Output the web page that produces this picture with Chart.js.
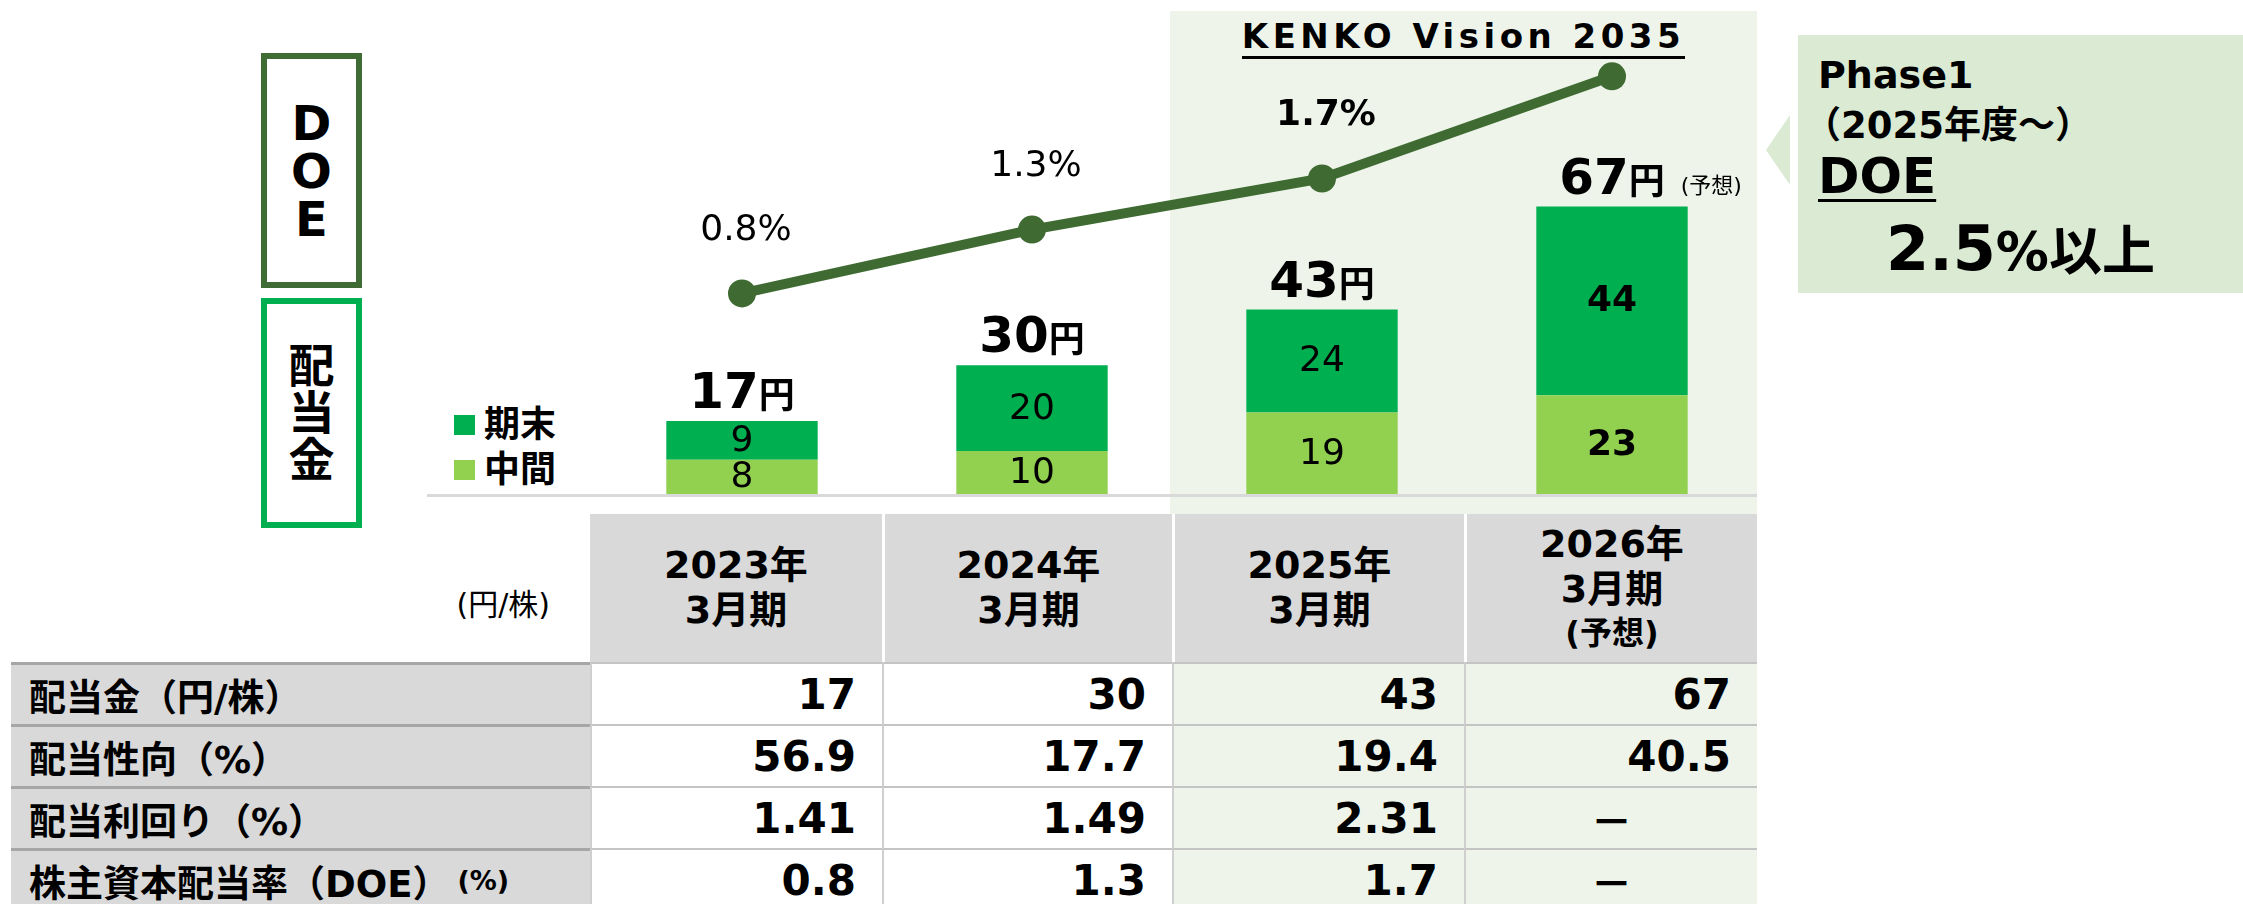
<!DOCTYPE html>
<html lang="ja">
<head>
<meta charset="utf-8">
<title>配当金・DOE推移</title>
<script src="https://cdn.jsdelivr.net/npm/chart.js@4.4.1/dist/chart.umd.min.js"></script>
<style>
  body { margin:0; width:2243px; height:904px; overflow:hidden; background:#fff; position:relative;
         font-family:"DejaVu Sans","Noto Sans CJK JP",sans-serif; color:#000; }
  .abs { position:absolute; box-sizing:border-box; }
  #panel { left:1170px; top:11px; width:587px; height:893px; background:#eef4ea; }
  #vision { left:1170px; top:14px; width:587px; text-align:center; font-weight:bold; font-size:34px;
            letter-spacing:4.5px; line-height:44px; }
  #vision span { border-bottom:3px solid #000; padding-bottom:0; }
  #callout { left:1798px; top:35px; width:445px; height:258px; background:#dbead3; }
  #arrow { left:1766px; top:115px; width:0; height:0; border-top:35px solid transparent;
           border-bottom:35px solid transparent; border-right:24px solid #dbead3; }
  .ct { position:absolute; font-weight:bold; white-space:nowrap; }
  #doeBox { left:261px; top:53px; width:101px; height:235px; border:6px solid #3f6b35; }
  #divBox { left:261px; top:298px; width:101px; height:230px; border:6px solid #00b050; }
  .vtext { position:absolute; left:0; right:0; top:0; bottom:0; display:flex; flex-direction:column;
           align-items:center; justify-content:center; font-weight:bold; }
  #baseline { left:427px; top:494px; width:1330px; height:3px; background:#d9d9d9; }
  .leg { position:absolute; font-weight:bold; font-size:36px; line-height:36px; white-space:nowrap; }
  .leg i { display:inline-block; width:21px; height:20px; margin-right:9px; vertical-align:2px; }
  #chart { position:absolute; left:0; top:0; }
  .cell { position:absolute; box-sizing:border-box; display:flex; align-items:center; white-space:nowrap; }
</style>
</head>
<body>
<div id="panel" class="abs"></div>
<div id="vision" class="abs"><span>KENKO Vision 2035</span></div>

<div id="arrow" class="abs"></div>
<div id="callout" class="abs">
  <div class="ct" style="left:20px;top:18px;font-size:38px;">Phase1</div>
  <div class="ct" style="left:6px;top:60px;font-size:37px;">（2025年度～）</div>
  <div class="ct" style="left:20px;top:112px;font-size:50px;text-decoration:underline;text-decoration-thickness:3px;text-underline-offset:6px;">DOE</div>
  <div class="ct" style="left:88px;top:174px;font-size:62px;">2.5<span style="font-size:53px;">%以上</span></div>
</div>

<div id="doeBox" class="abs"><div class="vtext" style="font-size:48px;line-height:48px;"><div>D</div><div>O</div><div>E</div></div></div>
<div id="divBox" class="abs"><div class="vtext" style="font-size:46px;line-height:47px;"><div>配</div><div>当</div><div>金</div></div></div>

<div id="baseline" class="abs"></div>
<div class="leg" style="left:454px;top:407px;"><i style="background:#00b050"></i>期末</div>
<div class="leg" style="left:454px;top:452px;"><i style="background:#92d050"></i>中間</div>

<canvas id="chart" width="2243" height="500"></canvas>
<div id="table"></div>

<script>
// 配当金（円/株）
var fiscalYears = ["2023年3月期", "2024年3月期", "2025年3月期", "2026年3月期（予想）"];
var interimDividend = [8, 10, 19, 23];
var yearEndDividend = [9, 20, 24, 44];
var totalDividend = [17, 30, 43, 67];
var isForecast = [false, false, false, true];

// DOE（%）: 最後の点は Phase1 目標 2.5%
var doeValues = [0.8, 1.3, 1.7, 2.5];
var doeLabels = ["0.8%", "1.3%", "1.7%", ""];

// 表
var headLines = [["2023年", "3月期"], ["2024年", "3月期"], ["2025年", "3月期"], ["2026年", "3月期", "(予想)"]];
var rowLabels = ["配当金（円/株）", "配当性向（%）", "配当利回り（%）", "株主資本配当率（DOE）"];
var rowSuffix = ["", "", "", "(%)"];
var payoutRatio = [56.9, 17.7, 19.4, 40.5];
var dividendYield = [1.41, 1.49, 2.31, null];
var doeActual = [0.8, 1.3, 1.7, null];

var FONT = '"DejaVu Sans","Noto Sans CJK JP",sans-serif';

var labelPlugin = {
    id: "labels",
    afterDatasetsDraw: function(chart) {
        var ctx = chart.ctx;
        var midMeta = chart.getDatasetMeta(0);
        var endMeta = chart.getDatasetMeta(1);
        var lineMeta = chart.getDatasetMeta(2);
        ctx.save();
        ctx.fillStyle = "#000";

        // 棒の中の数値
        ctx.textAlign = "center";
        ctx.textBaseline = "middle";
        [[midMeta, interimDividend], [endMeta, yearEndDividend]].forEach(function(pair) {
            pair[0].data.forEach(function(bar, i) {
                ctx.font = (isForecast[i] ? "bold " : "") + "36px " + FONT;
                ctx.fillText(String(pair[1][i]), bar.x, (bar.y + bar.base) / 2 + 1);
            });
        });

        // 合計（円）
        ctx.textAlign = "left";
        ctx.textBaseline = "alphabetic";
        endMeta.data.forEach(function(bar, i) {
            var big = "bold 50px " + FONT, small = "bold 36px " + FONT;
            var txt = String(totalDividend[i]);
            ctx.font = big;
            var w1 = ctx.measureText(txt).width;
            ctx.font = small;
            var w2 = ctx.measureText("円").width;
            var x0 = bar.x - (w1 + w2) / 2;
            var yb = bar.y - 13;
            ctx.font = big;
            ctx.fillText(txt, x0, yb);
            ctx.font = small;
            ctx.fillText("円", x0 + w1, yb);
            if (isForecast[i]) {
                ctx.font = "22px " + FONT;
                ctx.fillText("(予想)", x0 + w1 + w2 + 16, yb - 1);
            }
        });

        // DOEラベル
        ctx.textAlign = "center";
        ctx.textBaseline = "middle";
        lineMeta.data.forEach(function(pt, i) {
            if (!doeLabels[i]) return;
            ctx.font = (i === 2 ? "bold " : "") + "36px " + FONT;
            ctx.fillText(doeLabels[i], pt.x + 4, pt.y - 63);
        });
        ctx.restore();
    }
};

new Chart(document.getElementById("chart"), {
    type: "bar",
    data: {
        labels: fiscalYears,
        datasets: [
            {
                label: "中間",
                data: interimDividend,
                backgroundColor: "#92d050",
                stack: "div",
                yAxisID: "y",
                order: 2,
                categoryPercentage: 1,
                barPercentage: 0.522
            },
            {
                label: "期末",
                data: yearEndDividend,
                backgroundColor: "#00b050",
                stack: "div",
                yAxisID: "y",
                order: 2,
                categoryPercentage: 1,
                barPercentage: 0.522
            },
            {
                type: "line",
                label: "DOE",
                data: doeValues,
                yAxisID: "y2",
                borderColor: "#3f6b33",
                backgroundColor: "#3f6b33",
                borderWidth: 10,
                pointRadius: 14,
                pointBorderWidth: 0,
                tension: 0,
                clip: false,
                order: 1
            }
        ]
    },
    options: {
        responsive: false,
        animation: false,
        devicePixelRatio: 1,
        layout: { autoPadding: false, padding: { left: 597, right: 486, top: 50, bottom: 6 } },
        plugins: { legend: { display: false }, tooltip: { enabled: false } },
        scales: {
            x: { display: false, stacked: true, offset: true },
            y: { display: false, stacked: true, min: 0, max: 103.5 },
            y2: { type: "linear", display: false, position: "right", min: -0.77, max: 2.706 }
        }
    },
    plugins: [labelPlugin]
});

// 表を組み立てる
(function() {
    var table = document.getElementById("table");
    var colX = [11, 590, 882, 1172, 1464, 1757];
    var headTop = 514, headH = 148, rowH = 62;
    var rows = [
        totalDividend.map(function(v) { return String(v); }),
        payoutRatio.map(function(v) { return v.toFixed(1); }),
        dividendYield.map(function(v) { return v === null ? null : v.toFixed(2); }),
        doeActual.map(function(v) { return v === null ? null : v.toFixed(1); })
    ];

    function cell(x, y, w, h, css, html) {
        var d = document.createElement("div");
        d.className = "cell";
        d.style.cssText = "left:" + x + "px;top:" + y + "px;width:" + w + "px;height:" + h + "px;" + css;
        d.innerHTML = html;
        table.appendChild(d);
    }

    cell(colX[0], headTop, colX[1] - colX[0], headH,
        "justify-content:flex-end;padding-right:40px;padding-top:28px;font-size:30px;", "(円/株)");

    headLines.forEach(function(lines, c) {
        var html = lines.map(function(t, k) {
            return '<div style="font-size:' + (k === 2 ? 32 : 38) + 'px;line-height:' + (k === 2 ? 42 : 45) + 'px">' + t + "</div>";
        }).join("");
        cell(colX[c + 1], headTop, colX[c + 2] - colX[c + 1], headH,
            "background:#d9d9d9;justify-content:center;text-align:center;font-weight:bold;flex-direction:column;" +
            (c > 0 ? "border-left:3px solid #fff;" : ""), html);
    });

    rowLabels.forEach(function(label, r) {
        var y = headTop + headH + r * rowH;
        var txt = label + (rowSuffix[r] ? '<span style="font-size:27px;margin-left:8px">' + rowSuffix[r] + "</span>" : "");
        cell(colX[0], y, colX[1] - colX[0], rowH,
            "background:#d9d9d9;border-top:3px solid #a6a6a6;padding-left:18px;font-weight:bold;font-size:37px;", txt);
        rows[r].forEach(function(v, c) {
            var bg = c >= 2 ? "#eef4ea" : "#fff";
            var align = v === null ? "justify-content:center;" : "justify-content:flex-end;padding-right:26px;";
            cell(colX[c + 1], y, colX[c + 2] - colX[c + 1], rowH,
                "background:" + bg + ";border-top:2px solid #c4c4c4;border-left:2px solid #cfcfcf;font-weight:bold;font-size:42px;" + align,
                v === null ? "－" : v);
        });
    });
})();
</script>
</body>
</html>
